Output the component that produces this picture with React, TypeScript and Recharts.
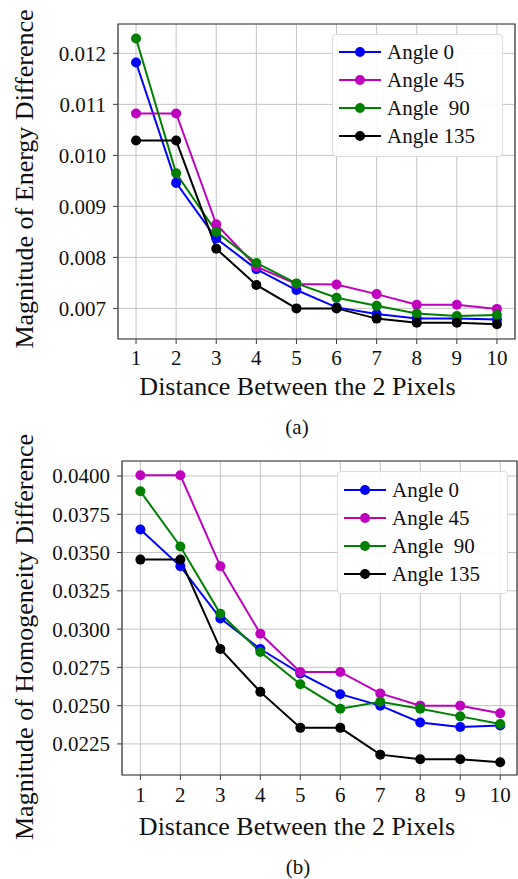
import React from 'react';
import { LineChart, Line, XAxis, YAxis, CartesianGrid, Legend, ReferenceArea } from 'recharts';

const FONT = '"Liberation Serif", "Times New Roman", serif';

const DISTANCES = [1, 2, 3, 4, 5, 6, 7, 8, 9, 10];
const SERIES_NAMES = ['Angle 0', 'Angle 45', 'Angle  90', 'Angle 135'];
const SERIES_COLORS = ['#0000ff', '#bf00bf', '#008000', '#000000'];

// (a) energy difference
const ENERGY_A0 = [0.01182, 0.00946, 0.00837, 0.00777, 0.00736, 0.00702, 0.00689, 0.0068, 0.0068, 0.00678];
const ENERGY_A45 = [0.01082, 0.01082, 0.00865, 0.00782, 0.00748, 0.00747, 0.00728, 0.00707, 0.00707, 0.00699];
const ENERGY_A90 = [0.01229, 0.00965, 0.0085, 0.00789, 0.00749, 0.00721, 0.00705, 0.0069, 0.00685, 0.00687];
const ENERGY_A135 = [0.01029, 0.01029, 0.00817, 0.00746, 0.007, 0.007, 0.0068, 0.00672, 0.00672, 0.00669];
const ENERGY_TICKS = [0.007, 0.008, 0.009, 0.01, 0.011, 0.012];

// (b) homogeneity difference
const HOMOG_A0 = [0.0365, 0.0341, 0.0307, 0.0287, 0.0271, 0.02575, 0.025, 0.0239, 0.0236, 0.0237];
const HOMOG_A45 = [0.04005, 0.04005, 0.0341, 0.0297, 0.0272, 0.0272, 0.0258, 0.025, 0.025, 0.0245];
const HOMOG_A90 = [0.039, 0.0354, 0.031, 0.0285, 0.0264, 0.0248, 0.02525, 0.0248, 0.0243, 0.0238];
const HOMOG_A135 = [0.03454, 0.03454, 0.0287, 0.0259, 0.02355, 0.02355, 0.0218, 0.0215, 0.0215, 0.0213];
const HOMOG_TICKS = [0.0225, 0.025, 0.0275, 0.03, 0.0325, 0.035, 0.0375, 0.04];

const KEYS = ['a0', 'a45', 'a90', 'a135'];

const buildRows = (s: number[][]) =>
  DISTANCES.map((d, i) => ({ d, a0: s[0][i], a45: s[1][i], a90: s[2][i], a135: s[3][i] }));

const energyRows = buildRows([ENERGY_A0, ENERGY_A45, ENERGY_A90, ENERGY_A135]);
const homogRows = buildRows([HOMOG_A0, HOMOG_A45, HOMOG_A90, HOMOG_A135]);

const LegendBox = ({ padTop }: { padTop: number }) => (
  <div
    style={{
      width: 171,
      height: 123,
      boxSizing: 'border-box',
      border: '1px solid #dcdcdc',
      borderRadius: 4,
      background: 'rgba(255,255,255,0.9)',
      paddingTop: padTop,
      fontFamily: FONT,
    }}
  >
    {SERIES_NAMES.map((name, i) => (
      <div key={name} style={{ display: 'flex', alignItems: 'center', height: 28 }}>
        <svg width={48} height={28} style={{ display: 'block' }}>
          <line x1={6} x2={48} y1={14} y2={14} stroke={SERIES_COLORS[i]} strokeWidth={2} />
          <circle cx={27} cy={14} r={5} fill={SERIES_COLORS[i]} />
        </svg>
        <span style={{ marginLeft: 6, fontSize: 21, whiteSpace: 'pre', color: '#111', lineHeight: 1 }}>{name}</span>
      </div>
    ))}
  </div>
);

type PanelProps = {
  top: number;
  height: number;
  rows: typeof energyRows;
  yDomain: [number, number];
  yTicks: number[];
  digits: number;
  yWidth: number;
  margin: { top: number; right: number; bottom: number; left: number };
  xDomain: [number, number];
  xTickMargin: number;
  legend: { top: number; left: number; padTop: number };
};

function Panel(p: PanelProps) {
  const tick = { fontSize: 21, fill: '#111', fontFamily: FONT };
  return (
    <div style={{ position: 'absolute', left: 0, top: p.top }}>
      <LineChart width={518} height={p.height} data={p.rows} margin={p.margin}>
        <CartesianGrid stroke="#c4c4c4" strokeWidth={1} />
        <XAxis
          dataKey="d"
          type="number"
          domain={p.xDomain}
          ticks={DISTANCES}
          interval={0}
          allowDataOverflow
          axisLine={false}
          tickLine={{ stroke: '#3a3a3a' }}
          tickSize={5}
          tickMargin={p.xTickMargin}
          height={40}
          tick={tick}
        />
        <YAxis
          type="number"
          domain={p.yDomain}
          ticks={p.yTicks}
          allowDataOverflow
          axisLine={false}
          tickLine={{ stroke: '#3a3a3a' }}
          tickSize={5}
          tickMargin={7}
          width={p.yWidth}
          tick={tick}
          tickFormatter={(v: number) => v.toFixed(p.digits)}
        />
        <ReferenceArea
          x1={p.xDomain[0]}
          x2={p.xDomain[1]}
          y1={p.yDomain[0]}
          y2={p.yDomain[1]}
          fill="none"
          stroke="#3a3a3a"
          strokeWidth={1.2}
          ifOverflow="visible"
        />
        {KEYS.map((k, i) => (
          <Line
            key={k}
            type="linear"
            dataKey={k}
            name={SERIES_NAMES[i]}
            stroke={SERIES_COLORS[i]}
            strokeWidth={2}
            dot={{ r: 5, fill: SERIES_COLORS[i], stroke: SERIES_COLORS[i], strokeWidth: 0 }}
            isAnimationActive={false}
          />
        ))}
        <Legend
          layout="vertical"
          align="center"
          verticalAlign="middle"
          wrapperStyle={{ top: p.legend.top, left: p.legend.left, width: 171, height: 123 }}
          content={() => <LegendBox padTop={p.legend.padTop} />}
        />
      </LineChart>
    </div>
  );
}

const textStyle = (x: number, y: number, size: number, rotate = 0): React.CSSProperties => ({
  position: 'absolute',
  left: x,
  top: y,
  transform: `translate(-50%, -50%) rotate(${rotate}deg)`,
  fontSize: size,
  fontFamily: FONT,
  whiteSpace: 'nowrap',
  lineHeight: 1,
  color: '#111',
});

export default function App() {
  return (
    <div style={{ position: 'absolute', left: 0, top: 0, width: 518, height: 879, background: '#fff', overflow: 'hidden' }}>
      <Panel
        top={0}
        height={440}
        rows={energyRows}
        yDomain={[0.0064, 0.012575]}
        yTicks={ENERGY_TICKS}
        digits={3}
        yWidth={118}
        margin={{ top: 24, right: 3, bottom: 61, left: 0 }}
        xDomain={[0.55, 10.45]}
        xTickMargin={6}
        legend={{ top: 34, left: 332, padTop: 3 }}
      />
      <Panel
        top={440}
        height={439}
        rows={homogRows}
        yDomain={[0.02047, 0.04098]}
        yTicks={HOMOG_TICKS}
        digits={4}
        yWidth={122}
        margin={{ top: 21, right: 1, bottom: 64, left: 0 }}
        xDomain={[0.54, 10.42]}
        xTickMargin={7}
        legend={{ top: 31, left: 337, padTop: 4 }}
      />
      <div style={textStyle(25, 179, 26, -90)}>Magnitude of Energy Difference</div>
      <div style={textStyle(297.5, 387, 26)}>Distance Between the 2 Pixels</div>
      <div style={textStyle(297, 427, 21)}>(a)</div>
      <div style={textStyle(25, 637, 26, -90)}>Magnitude of Homogeneity Difference</div>
      <div style={textStyle(297, 826.5, 26)}>Distance Between the 2 Pixels</div>
      <div style={textStyle(298, 866.5, 21)}>(b)</div>
    </div>
  );
}
